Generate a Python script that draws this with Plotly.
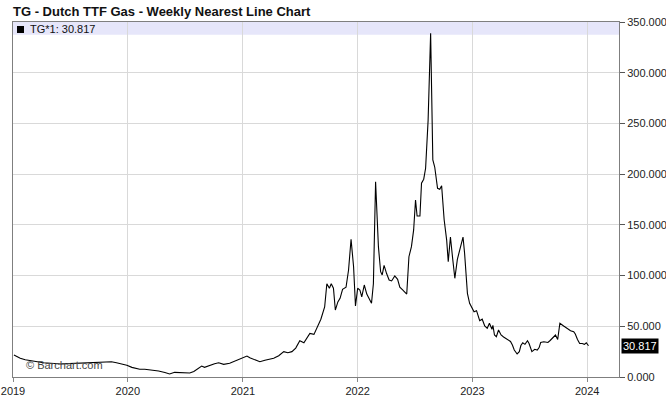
import plotly.graph_objects as go

dates = [
    "2019-01-04", "2019-01-14", "2019-01-24", "2019-02-09", "2019-02-25", "2019-03-20",
    "2019-04-08", "2019-05-01", "2019-06-02", "2019-06-28", "2019-07-27", "2019-08-28",
    "2019-09-29", "2019-10-22", "2019-11-10", "2019-11-26", "2019-12-13", "2019-12-29",
    "2020-01-14", "2020-02-08", "2020-02-24", "2020-03-17", "2020-04-08", "2020-04-28",
    "2020-05-13", "2020-05-29", "2020-06-20", "2020-07-16", "2020-07-29", "2020-08-07",
    "2020-08-23", "2020-09-01", "2020-09-17", "2020-10-03", "2020-10-16", "2020-11-01",
    "2020-11-20", "2020-12-06", "2020-12-19",
    "2021-01-01", "2021-01-14", "2021-01-23", "2021-02-05", "2021-02-24", "2021-03-12",
    "2021-03-25", "2021-04-09", "2021-04-25", "2021-05-11", "2021-05-24", "2021-06-06",
    "2021-06-18", "2021-07-01", "2021-07-14", "2021-07-23", "2021-08-02", "2021-08-15",
    "2021-08-24", "2021-09-06", "2021-09-18", "2021-09-25", "2021-10-03", "2021-10-09",
    "2021-10-16", "2021-10-22", "2021-10-30", "2021-11-06", "2021-11-14", "2021-11-25",
    "2021-12-03", "2021-12-11", "2021-12-19", "2021-12-25",
    "2022-01-01", "2022-01-08", "2022-01-14", "2022-01-22", "2022-01-30", "2022-02-06",
    "2022-02-14", "2022-02-20", "2022-02-27", "2022-03-08", "2022-03-15", "2022-03-20",
    "2022-03-26", "2022-04-03", "2022-04-11", "2022-04-19", "2022-04-29", "2022-05-08",
    "2022-05-15", "2022-05-24", "2022-06-06", "2022-06-13", "2022-06-21", "2022-06-28",
    "2022-07-04", "2022-07-09", "2022-07-18", "2022-07-23", "2022-07-30", "2022-08-05",
    "2022-08-13", "2022-08-21", "2022-08-28", "2022-09-03", "2022-09-12", "2022-09-19",
    "2022-09-25", "2022-10-03", "2022-10-11", "2022-10-16", "2022-10-23", "2022-10-30",
    "2022-11-06", "2022-11-14", "2022-11-24", "2022-12-02", "2022-12-07", "2022-12-16",
    "2022-12-23", "2022-12-30",
    "2023-01-06", "2023-01-14", "2023-01-24", "2023-02-01", "2023-02-09", "2023-02-17",
    "2023-02-24", "2023-03-04", "2023-03-07", "2023-03-12", "2023-03-18", "2023-03-25",
    "2023-04-02", "2023-04-10", "2023-04-18", "2023-04-24", "2023-05-02", "2023-05-08",
    "2023-05-14", "2023-05-23", "2023-05-30", "2023-06-04", "2023-06-10", "2023-06-17",
    "2023-06-25", "2023-06-30", "2023-07-09", "2023-07-18", "2023-07-26", "2023-08-01",
    "2023-08-06", "2023-08-16", "2023-08-29", "2023-09-05", "2023-09-12", "2023-09-22",
    "2023-09-29", "2023-10-06", "2023-10-18", "2023-10-29", "2023-11-09", "2023-11-19",
    "2023-11-24", "2023-12-01", "2023-12-08", "2023-12-16", "2023-12-23", "2023-12-29",
    "2024-01-05",
]

prices = [
    21.7, 20.0, 18.4, 17.0, 16.0, 15.0,
    14.0, 13.5, 12.8, 13.2, 13.5, 14.0,
    14.0, 14.5, 15.0, 14.0, 12.8, 11.5,
    9.5, 7.6, 7.6, 6.8, 5.9, 4.5,
    3.0, 4.6, 4.2, 4.0, 5.5, 7.6,
    10.8, 9.5, 11.5, 13.0, 14.0, 12.5,
    13.5, 15.5, 17.4,
    18.5, 20.7, 19.0, 17.4, 15.0, 16.5,
    17.5, 18.5, 21.0, 25.0, 24.0, 25.0,
    28.5, 35.8, 33.8, 38.0, 43.0, 42.0,
    48.0, 57.0, 69.0, 92.0, 87.5, 92.0,
    87.5, 66.0, 74.0, 77.6, 86.5, 88.5,
    105.5, 135.8, 108.7, 70.0,
    87.5, 85.8, 79.0, 90.7, 81.8, 77.6,
    72.7, 92.0, 192.6, 128.5, 103.8, 100.6,
    110.0, 102.0, 95.6, 94.7, 99.6, 96.3,
    88.5, 85.8, 81.8, 118.6, 128.5, 145.0,
    174.5, 158.7, 158.7, 191.0, 195.0, 205.8,
    253.0, 339.0, 214.0, 207.0, 186.0, 185.0,
    188.6, 155.0, 135.0, 113.7, 138.0, 117.0,
    97.3, 116.0, 128.5, 138.0, 122.0, 82.5,
    72.7, 68.0,
    64.4, 65.4, 55.5, 57.0, 50.3, 48.0,
    53.0, 47.0, 51.0, 41.4, 39.7, 46.3,
    41.4, 39.5, 38.0, 37.0, 35.0, 31.5,
    26.6, 22.7, 25.0, 31.0, 33.8, 32.2,
    35.8, 33.0, 25.0, 27.3, 26.6, 29.0,
    34.0, 34.8, 34.0, 36.0, 38.0, 41.4,
    37.0, 53.0, 50.3, 48.0, 45.7, 44.7,
    42.4, 37.0, 33.0, 33.0, 32.2, 33.8,
    30.817,
]

y_ticks = [0, 50, 100, 150, 200, 250, 300, 350]
x_ticks = ["2019-01-01", "2020-01-01", "2021-01-01", "2022-01-01", "2023-01-01", "2024-01-01"]
x_tick_labels = ["2019", "2020", "2021", "2022", "2023", "2024"]
title_text = "TG - Dutch TTF Gas - Weekly Nearest Line Chart"
legend_text = "TG*1: 30.817"
last_label = "30.817"

FONT = "Liberation Sans, Arial, sans-serif"

fig = go.Figure()
fig.add_trace(go.Scatter(
    x=dates, y=prices, mode="lines",
    line=dict(color="#000000", width=1.1),
    showlegend=False, hoverinfo="skip",
))

fig.update_layout(
    width=666, height=399,
    margin=dict(l=13, r=47, t=22, b=22, autoexpand=False),
    paper_bgcolor="#ffffff",
    plot_bgcolor="#ffffff",
    font=dict(family=FONT, size=11, color="#222222"),
    showlegend=False,
    title=dict(
        text="<b>" + title_text + "</b>",
        x=13 / 666, xanchor="left", xref="container",
        y=1 - 11 / 399, yanchor="middle", yref="container",
        pad=dict(l=0, r=0, t=0, b=0),
        font=dict(family=FONT, size=13, color="#111111"),
    ),
)

fig.update_xaxes(
    type="date",
    range=["2019-01-01", "2024-04-11"],
    tickmode="array", tickvals=x_ticks, ticktext=x_tick_labels,
    ticks="outside", ticklen=4, tickcolor="#888888",
    showgrid=True, gridcolor="#d9d9d9", gridwidth=1,
    showline=True, linecolor="#7f7f7f", linewidth=1, mirror=True,
    tickfont=dict(family=FONT, size=11, color="#222222"),
    zeroline=False, automargin=False,
)
fig.update_yaxes(
    side="right",
    range=[0, 350],
    tickmode="array", tickvals=y_ticks,
    tickformat=".3f",
    ticks="outside", ticklen=5, tickcolor="#555555",
    showgrid=True, gridcolor="#d9d9d9", gridwidth=1,
    showline=True, linecolor="#7f7f7f", linewidth=1, mirror=True,
    tickfont=dict(family=FONT, size=11, color="#222222"),
    zeroline=False, automargin=False,
)

# legend band across the top of the plot area
fig.add_shape(type="rect", xref="paper", yref="y", x0=0, x1=1, y0=337.5, y1=350,
              fillcolor="#e6e6fa", line=dict(width=0), layer="below")
fig.add_shape(type="rect", xref="paper", yref="paper",
              x0=4 / 606, x1=11 / 606, y0=1 - 11 / 355, y1=1 - 4 / 355,
              fillcolor="#000000", line=dict(width=0))
fig.add_annotation(text=legend_text, xref="paper", yref="paper",
                   x=15 / 606, y=1 - 7.5 / 355, xanchor="left", yanchor="middle",
                   showarrow=False, font=dict(family=FONT, size=11, color="#111111"))

# watermark
fig.add_annotation(text="© Barchart.com", xref="paper", yref="paper",
                   x=11 / 606, y=12 / 355, xanchor="left", yanchor="middle",
                   showarrow=False, font=dict(family=FONT, size=11, color="#444444"))

# last value tag
fig.add_annotation(text=last_label, xref="paper", yref="y",
                   x=1, y=prices[-1], xanchor="left", yanchor="middle", xshift=2,
                   showarrow=False, bgcolor="#000000", borderpad=1,
                   font=dict(family=FONT, size=11, color="#ffffff"))

fig.write_html(
    "out.html",
    config={"displayModeBar": False, "staticPlot": True},
    post_script="document.body.style.margin='0';document.body.style.overflow='hidden';",
)
